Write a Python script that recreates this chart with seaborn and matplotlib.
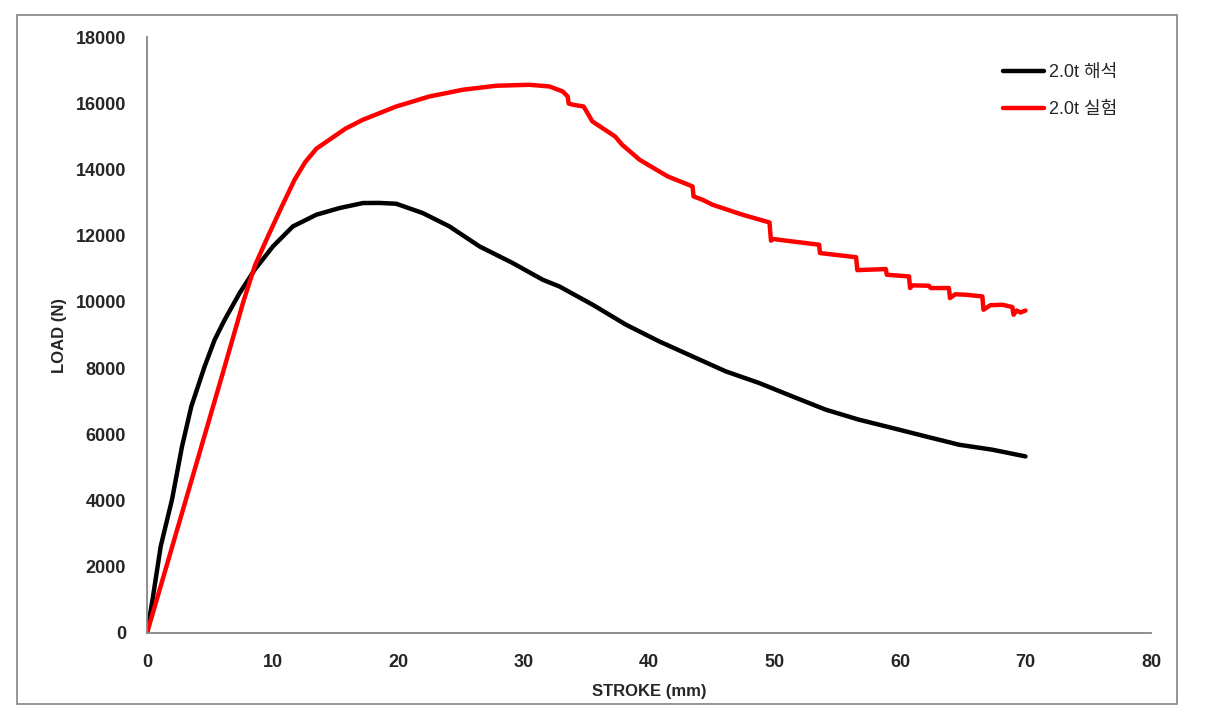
import matplotlib
matplotlib.use("Agg")
import matplotlib.pyplot as plt
from matplotlib.patches import Rectangle
import seaborn as sns
import pandas as pd

# analysis curve (2.0t 해석)
analysis_stroke = [0, 0.48, 1.09, 1.99, 2.79, 3.53, 4.59, 5.39, 6.19, 7.38, 8.58, 10.03,
                   11.62, 13.49, 15.34, 17.2, 18.5, 19.86, 21.97, 24.1, 26.5, 29.14, 31.53,
                   32.86, 35.51, 38.17, 40.82, 43.47, 46.13, 48.78, 51.43, 54.09, 56.74,
                   59.4, 62.05, 64.7, 67.36, 70.0]
analysis_load = [0, 1105, 2615, 4027, 5635, 6843, 8051, 8857, 9462, 10268, 10972, 11675,
                 12280, 12633, 12835, 12986, 12990, 12965, 12684, 12280, 11675, 11174, 10670,
                 10467, 9915, 9311, 8806, 8353, 7900, 7550, 7145, 6744, 6442,
                 6191, 5937, 5687, 5536, 5333]

# experiment curve (2.0t 실험)
test_stroke = [0, 2.0, 4.0, 6.0, 7.67, 8.6, 9.66, 10.7, 11.76, 12.6, 13.5, 14.54, 15.8,
               17.2, 19.86, 22.5, 25.16, 27.82, 30.47, 32.06, 33.12, 33.52, 33.6,
               33.95, 34.79, 35.49, 37.3, 37.86, 39.25, 41.49, 43.47, 43.55, 44.27, 45.06,
               47.45, 49.6, 49.72, 49.9, 51.43, 53.56, 53.62, 56.5, 56.6, 58.87, 58.95,
               60.72, 60.8, 61.0, 62.3, 62.45, 63.9, 63.98, 64.4, 65.24, 66.56, 66.65,
               67.2, 68.15, 68.95, 69.05, 69.3, 69.6, 70.0]
test_load = [0, 2600, 5200, 7800, 10000, 11100, 12000, 12850, 13690, 14220, 14630, 14900, 15230,
             15502, 15903, 16205, 16408, 16529, 16558, 16508, 16357, 16205, 15990,
             15955, 15903, 15450, 14997, 14747, 14294, 13790, 13488, 13185, 13085, 12935,
             12633, 12400, 11850, 11900, 11826, 11727, 11476, 11350, 10960, 10992, 10820,
             10770, 10419, 10500, 10488, 10419, 10419, 10117, 10230, 10217, 10165, 9764,
             9900, 9915, 9845, 9613, 9740, 9680, 9740]

labels = ["2.0t 해석", "2.0t 실험"]
colors = ["#000000", "#ff0000"]

df = pd.concat([
    pd.DataFrame({"stroke": analysis_stroke, "load": analysis_load, "series": labels[0]}),
    pd.DataFrame({"stroke": test_stroke, "load": test_load, "series": labels[1]}),
])

sns.set_style("white")
plt.rcParams["font.family"] = ["Liberation Sans", "Noto Sans CJK KR", "DejaVu Sans"]

fig = plt.figure(figsize=(12.14, 7.18), dpi=100)
ax = fig.add_axes([0.1211, 0.1184, 0.827, 0.830])

sns.lineplot(data=df, x="stroke", y="load", hue="series", palette=dict(zip(labels, colors)),
             sort=False, estimator=None, linewidth=3.2, ax=ax)

ax.set_xlim(0, 80)
ax.set_ylim(0, 18000)
ax.set_xticks(range(0, 81, 10))
ax.set_yticks(range(0, 18001, 2000))

for side in ["top", "right"]:
    ax.spines[side].set_visible(False)
for side in ["left", "bottom"]:
    ax.spines[side].set_color("#868686")
    ax.spines[side].set_linewidth(1.3)

ax.tick_params(axis="both", direction="out", length=6, width=1.2, color="#868686",
               labelsize=13, pad=9)
for lbl in ax.get_xticklabels() + ax.get_yticklabels():
    lbl.set_fontweight("bold")

ax.set_xlabel("STROKE (mm)", fontsize=12, fontweight="bold")
ax.set_ylabel("LOAD (N)", fontsize=12, fontweight="bold")
ax.xaxis.set_label_coords(0.5, -0.086)
ax.yaxis.set_label_coords(-0.080, 0.5)

ax.legend(loc="upper left", bbox_to_anchor=(0.836, 0.982), frameon=False, fontsize=13,
          handlelength=2.3, handletextpad=0.25, labelspacing=1.12)

# outer chart border
fig.patches.append(Rectangle((17 / 1214, 14 / 718), 1160 / 1214, 689 / 718,
                             transform=fig.transFigure, fill=False,
                             edgecolor="#8c8c8c", linewidth=1.3))

fig.savefig("out.png", dpi=100)
